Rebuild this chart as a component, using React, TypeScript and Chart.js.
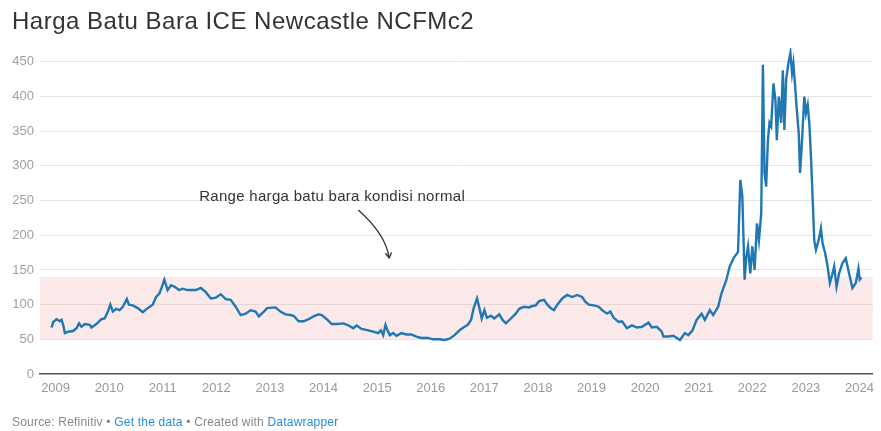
import React, { useEffect, useRef } from "react";
import { Chart, registerables } from "chart.js";

Chart.register(...registerables);

const TITLE = "Harga Batu Bara ICE Newcastle NCFMc2";
const NOTE = "Range harga batu bara kondisi normal";

const DATES = [
  2008.926, 2008.955, 2009.019, 2009.08, 2009.111, 2009.141, 2009.173, 2009.234, 2009.327, 2009.39,
  2009.438, 2009.483, 2009.544, 2009.637, 2009.668, 2009.761, 2009.854, 2009.915, 2009.976, 2010.021,
  2010.069, 2010.132, 2010.194, 2010.255, 2010.329, 2010.367, 2010.44, 2010.533, 2010.626, 2010.719,
  2010.812, 2010.875, 2010.936, 2010.986, 2011.029, 2011.09, 2011.153, 2011.215, 2011.307, 2011.369,
  2011.461, 2011.617, 2011.71, 2011.803, 2011.896, 2011.989, 2012.081, 2012.174, 2012.267, 2012.36,
  2012.453, 2012.546, 2012.638, 2012.731, 2012.793, 2012.886, 2012.947, 2013.103, 2013.196, 2013.288,
  2013.381, 2013.442, 2013.535, 2013.628, 2013.721, 2013.813, 2013.906, 2013.967, 2014.06, 2014.153,
  2014.246, 2014.37, 2014.463, 2014.556, 2014.617, 2014.71, 2014.834, 2014.927, 2015.02, 2015.07,
  2015.113, 2015.156, 2015.193, 2015.237, 2015.299, 2015.36, 2015.453, 2015.545, 2015.638, 2015.731,
  2015.824, 2015.948, 2016.041, 2016.165, 2016.258, 2016.351, 2016.444, 2016.537, 2016.63, 2016.691,
  2016.752, 2016.802, 2016.864, 2016.908, 2016.951, 2017.001, 2017.049, 2017.123, 2017.186, 2017.279,
  2017.34, 2017.402, 2017.495, 2017.587, 2017.65, 2017.743, 2017.836, 2017.897, 2017.959, 2018.022,
  2018.114, 2018.176, 2018.237, 2018.3, 2018.361, 2018.454, 2018.547, 2018.64, 2018.732, 2018.825,
  2018.887, 2018.95, 2019.043, 2019.135, 2019.197, 2019.29, 2019.351, 2019.414, 2019.507, 2019.569,
  2019.661, 2019.754, 2019.847, 2019.94, 2020.064, 2020.125, 2020.218, 2020.311, 2020.342, 2020.435,
  2020.528, 2020.65, 2020.743, 2020.806, 2020.886, 2020.961, 2021.054, 2021.115, 2021.207, 2021.27,
  2021.363, 2021.424, 2021.517, 2021.578, 2021.652, 2021.734, 2021.777, 2021.814, 2021.857, 2021.889,
  2021.92, 2021.963, 2022.0, 2022.043, 2022.087, 2022.124, 2022.167, 2022.198, 2022.228, 2022.259,
  2022.291, 2022.321, 2022.352, 2022.395, 2022.432, 2022.458, 2022.495, 2022.538, 2022.57, 2022.599,
  2022.631, 2022.674, 2022.711, 2022.742, 2022.767, 2022.804, 2022.83, 2022.867, 2022.891, 2022.928,
  2022.971, 2023.002, 2023.034, 2023.064, 2023.095, 2023.127, 2023.156, 2023.188, 2023.238, 2023.281,
  2023.312, 2023.36, 2023.405, 2023.448, 2023.498, 2023.528, 2023.572, 2023.62, 2023.683, 2023.744,
  2023.806, 2023.869, 2023.931, 2023.981, 2024.005, 2024.037,
];

const PRICES = [
  67, 75, 79, 76, 78, 71, 59, 61, 62, 66,
  73, 68, 72, 71, 67, 72, 79, 80, 90, 100,
  90, 94, 92, 97, 108, 100, 99, 95, 89, 95,
  100, 111, 116, 126, 136, 121, 128, 126, 121, 123,
  121, 121, 124, 118, 109, 110, 115, 108, 107, 97,
  85, 87, 92, 90, 83, 90, 95, 96, 90, 86,
  85, 84, 76, 76, 79, 83, 86, 85, 79, 72,
  72, 73, 70, 66, 70, 65, 63, 61, 59, 63,
  56, 71, 63, 56, 59, 55, 59, 57, 57, 54,
  52, 52, 50, 50, 49, 51, 56, 63, 68, 71,
  78, 95, 109, 95, 80, 92, 81, 84, 80, 86,
  78, 73, 80, 87, 94, 97, 96, 98, 99, 105,
  107, 100, 95, 92, 100, 109, 114, 111, 114, 111,
  104, 100, 99, 97, 92, 87, 90, 81, 75, 76,
  66, 70, 67, 68, 74, 67, 68, 61, 54, 54,
  55, 49, 59, 56, 63, 78, 87, 78, 92, 85,
  97, 116, 136, 155, 167, 176, 280, 256, 136, 169,
  184, 145, 184, 150, 217, 193, 232, 446, 290, 270,
  337, 362, 357, 419, 395, 337, 400, 362, 438, 352,
  424, 448, 463, 434, 448, 410, 381, 347, 290, 337,
  400, 376, 388, 362, 313, 251, 193, 179, 193, 210,
  188, 174, 155, 131, 145, 155, 126, 145, 160, 167,
  145, 124, 131, 152, 136, 139,
];

const YEAR_TICKS = [2009, 2010, 2011, 2012, 2013, 2014, 2015, 2016, 2017, 2018, 2019, 2020, 2021, 2022, 2023, 2024];
const Y_TICKS = [0, 50, 100, 150, 200, 250, 300, 350, 400, 450];
const NORMAL_RANGE = [50, 140];

// annotation anchor points in data coordinates (year, price)
const NOTE_AT = { x: 2011.679, y: 250 };
const ARROW = { sx: 2014.649, sy: 236.5, cx: 2015.169, cy: 200.5, ex: 2015.224, ey: 167.3 };

const FONT = '"Liberation Sans", Arial, Helvetica, sans-serif';

export default function App() {
  const ref = useRef<HTMLCanvasElement | null>(null);

  useEffect(() => {
    document.body.style.margin = "0";
    const canvas = ref.current;
    if (!canvas) return;

    const bandPlugin = {
      id: "normalBand",
      beforeDatasetsDraw(chart: any) {
        const { ctx, chartArea, scales } = chart;
        const y = scales.y;
        const top = y.getPixelForValue(NORMAL_RANGE[1]);
        const bottom = y.getPixelForValue(NORMAL_RANGE[0]);
        ctx.save();
        ctx.fillStyle = "rgba(235,140,140,0.2)";
        ctx.fillRect(chartArea.left, top, chartArea.right - chartArea.left, bottom - top);
        ctx.restore();
      },
    };

    const notePlugin = {
      id: "note",
      afterDatasetsDraw(chart: any) {
        const { ctx, scales } = chart;
        const xs = scales.x;
        const ys = scales.y;
        ctx.save();
        ctx.font = `15px ${FONT}`;
        (ctx as any).letterSpacing = "0.3px";
        ctx.fillStyle = "#333333";
        ctx.textBaseline = "alphabetic";
        ctx.textAlign = "left";
        ctx.fillText(NOTE, xs.getPixelForValue(NOTE_AT.x), ys.getPixelForValue(NOTE_AT.y));

        const sx = xs.getPixelForValue(ARROW.sx);
        const sy = ys.getPixelForValue(ARROW.sy);
        const cx = xs.getPixelForValue(ARROW.cx);
        const cy = ys.getPixelForValue(ARROW.cy);
        const ex = xs.getPixelForValue(ARROW.ex);
        const ey = ys.getPixelForValue(ARROW.ey);
        ctx.strokeStyle = "#333333";
        ctx.lineWidth = 1.3;
        ctx.beginPath();
        ctx.moveTo(sx, sy);
        ctx.quadraticCurveTo(cx, cy, ex, ey);
        ctx.stroke();
        const ang = Math.atan2(ey - cy, ex - cx);
        const len = 6;
        ctx.beginPath();
        ctx.moveTo(ex - len * Math.cos(ang - 0.55), ey - len * Math.sin(ang - 0.55));
        ctx.lineTo(ex, ey);
        ctx.lineTo(ex - len * Math.cos(ang + 0.55), ey - len * Math.sin(ang + 0.55));
        ctx.stroke();
        ctx.restore();
      },
    };

    const chart = new Chart(canvas, {
      type: "line",
      data: {
        datasets: [
          {
            data: DATES.map((d, i) => ({ x: d, y: PRICES[i] })),
            borderColor: "#1f77b4",
            borderWidth: 2.4,
            pointRadius: 0,
            tension: 0,
            fill: false,
          },
        ],
      },
      options: {
        responsive: false,
        animation: false,
        devicePixelRatio: 1,
        layout: { padding: { top: 48, right: 4, bottom: 0, left: 0 } },
        plugins: {
          legend: { display: false },
          tooltip: { enabled: false },
          title: { display: false },
        },
        scales: {
          x: {
            type: "linear",
            min: 2008.709,
            max: 2024.247,
            afterBuildTicks: (scale: any) => {
              scale.ticks = YEAR_TICKS.map((v) => ({ value: v }));
            },
            afterFit: (scale: any) => {
              scale.height = 57;
            },
            ticks: {
              autoSkip: false,
              maxRotation: 0,
              padding: 7,
              color: "#999999",
              font: { family: FONT, size: 13 },
              callback: (v: any) => String(v),
            },
            grid: { display: false, drawTicks: false },
            border: { display: true, color: "#555555", width: 1.5 },
          },
          y: {
            min: 0,
            max: 470,
            afterBuildTicks: (scale: any) => {
              scale.ticks = Y_TICKS.map((v) => ({ value: v }));
            },
            afterFit: (scale: any) => {
              scale.width = 40;
            },
            ticks: {
              padding: 6,
              color: "#a0a0a0",
              font: { family: FONT, size: 13 },
              callback: (v: any) => String(v),
            },
            grid: {
              drawTicks: false,
              color: (c: any) => (c.tick && c.tick.value === 0 ? "rgba(0,0,0,0)" : "#e6e6e6"),
              lineWidth: 1,
            },
            border: { display: false },
          },
        },
      },
      plugins: [bandPlugin, notePlugin],
    } as any);

    return () => chart.destroy();
  }, []);

  return (
    <div style={{ position: "relative", width: 881, height: 431, fontFamily: FONT, overflow: "hidden", background: "#fff" }}>
      <canvas ref={ref} width={881} height={431} style={{ position: "absolute", left: 0, top: 0, width: 881, height: 431 }} />
      <div
        style={{
          position: "absolute",
          left: 12,
          top: 9,
          fontSize: 24,
          lineHeight: "24px",
          letterSpacing: "0.5px",
          color: "#333333",
          whiteSpace: "nowrap",
        }}
      >
        {TITLE}
      </div>
      <div
        style={{
          position: "absolute",
          left: 12,
          top: 416,
          fontSize: 12,
          lineHeight: "12px",
          letterSpacing: "0.2px",
          color: "#888888",
          whiteSpace: "nowrap",
        }}
      >
        <span>Source: Refinitiv • </span>
        <span style={{ color: "#2a8ad4" }}>Get the data</span>
        <span> • Created with </span>
        <span style={{ color: "#2a8ad4" }}>Datawrapper</span>
      </div>
    </div>
  );
}
